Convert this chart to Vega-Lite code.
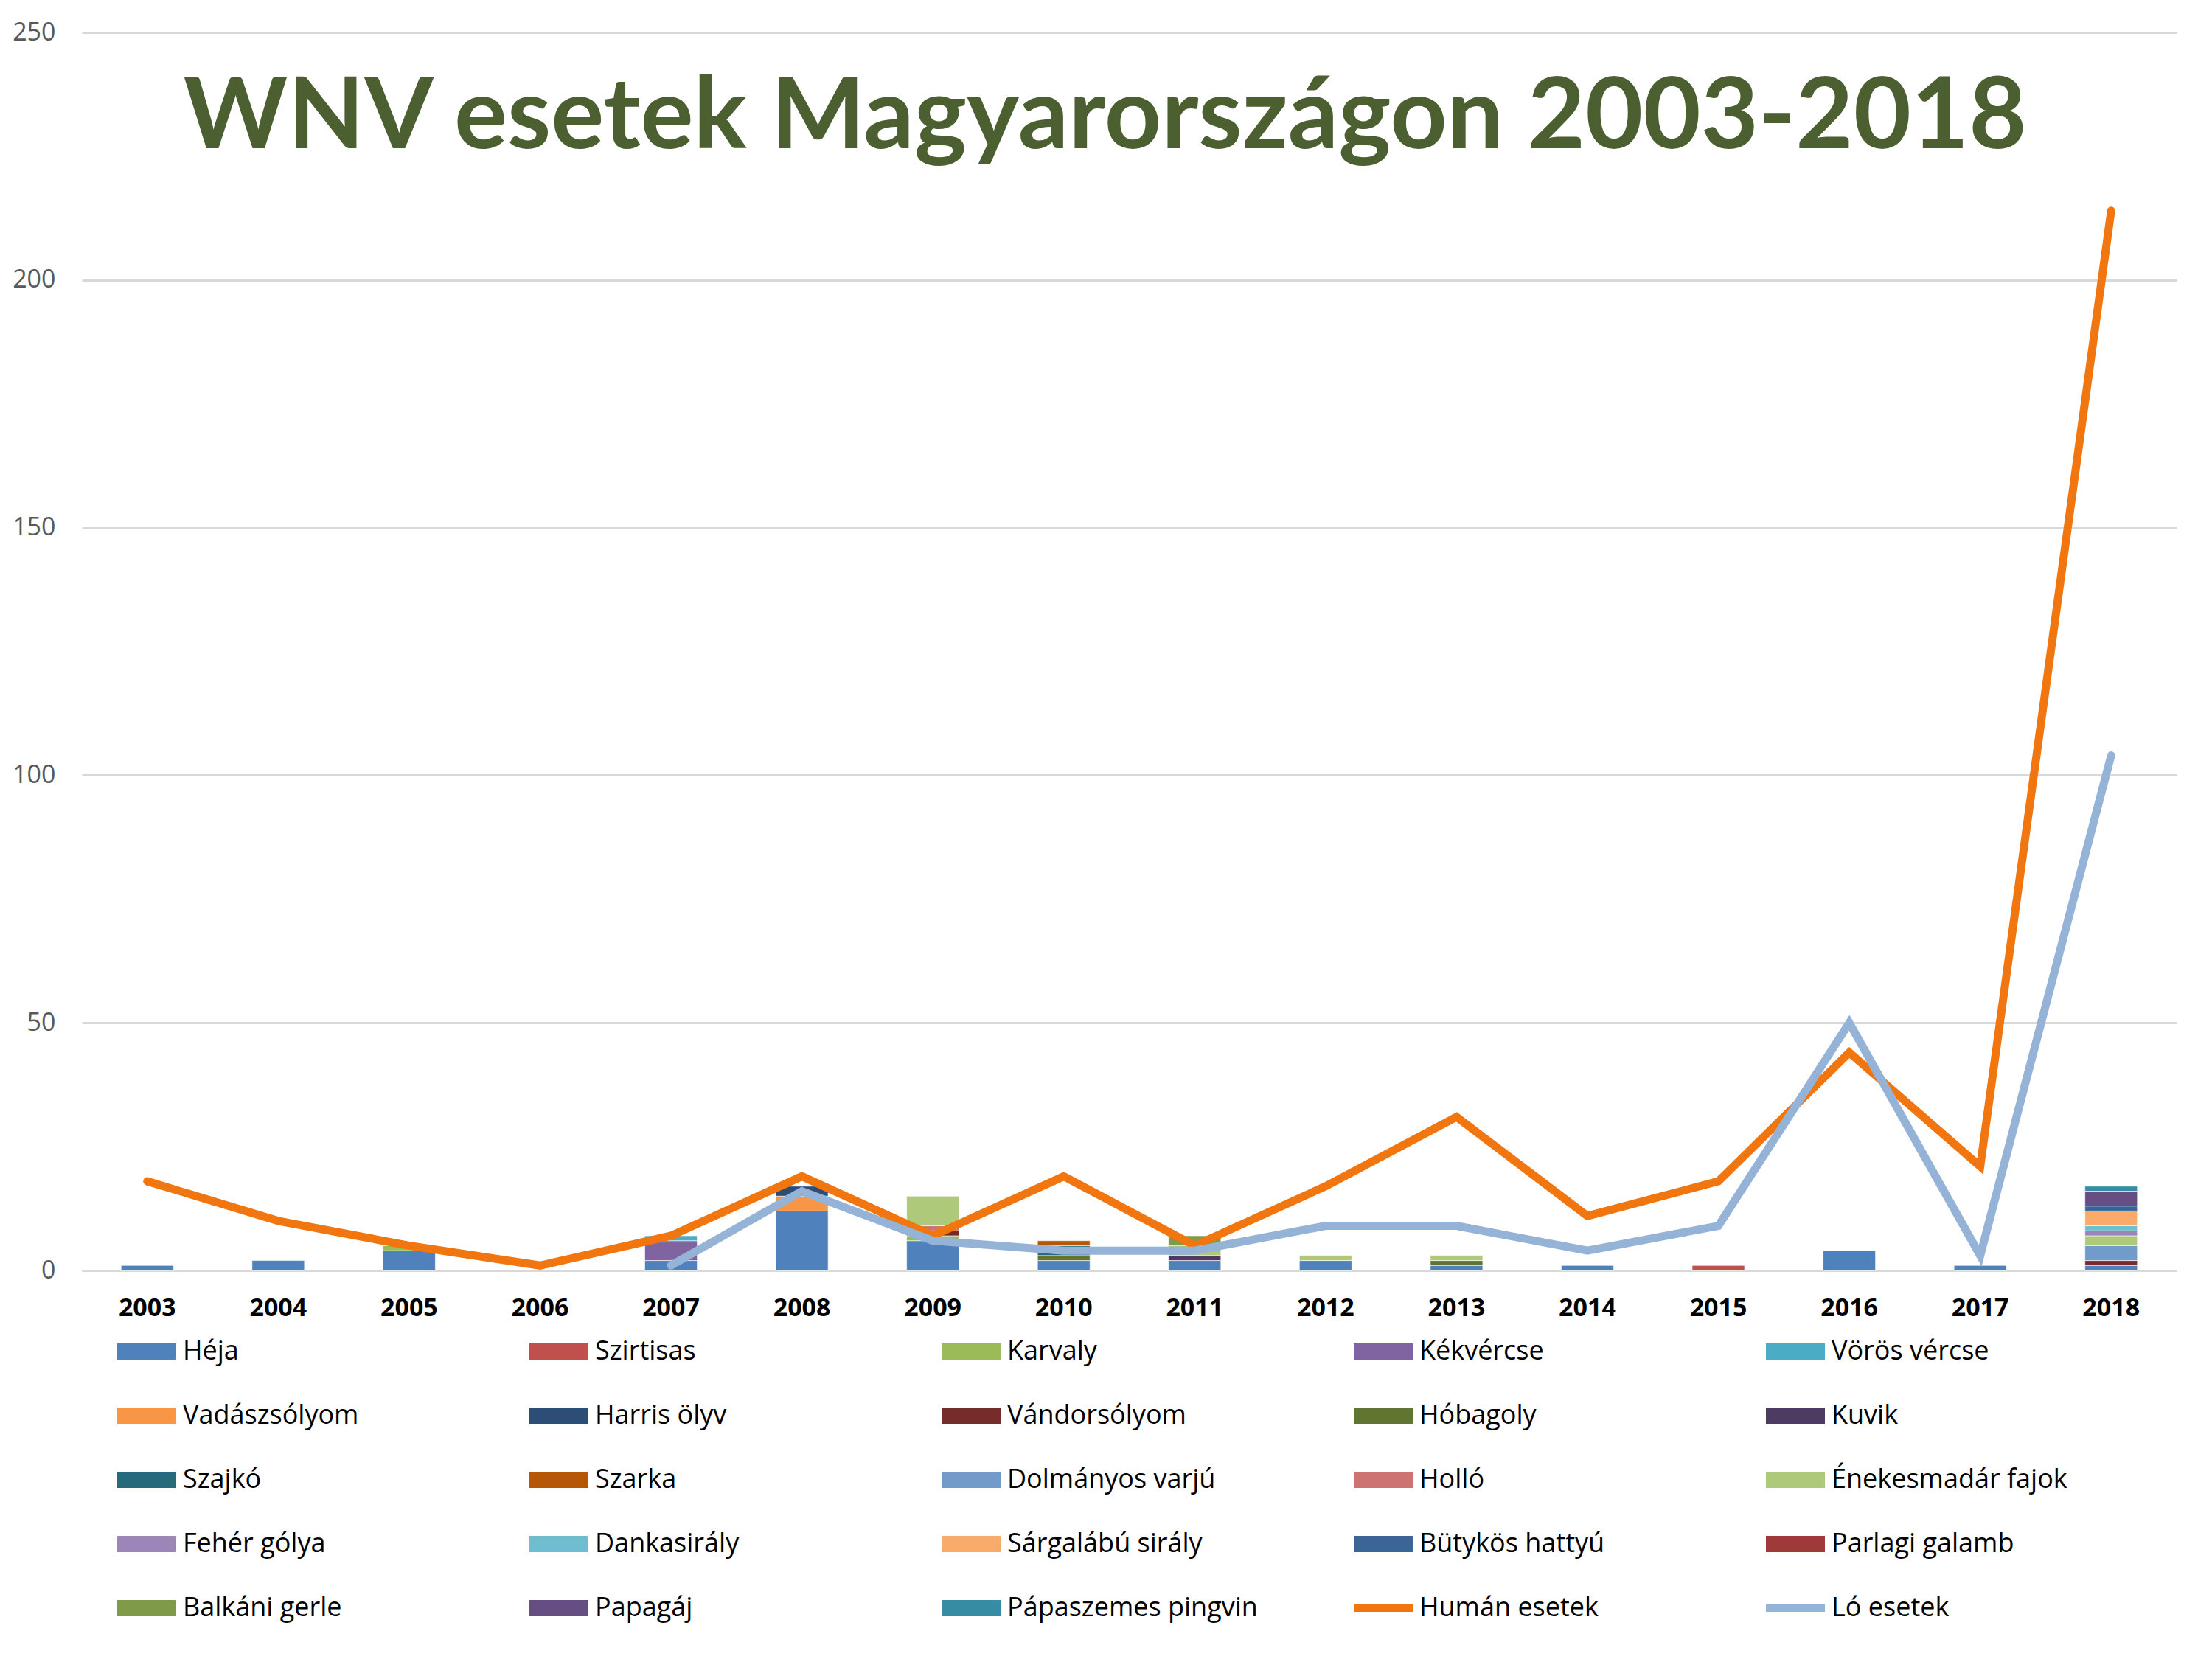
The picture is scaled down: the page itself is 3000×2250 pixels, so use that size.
{
  "$schema": "https://vega.github.io/schema/vega-lite/v6.json",
  "width": 2841,
  "height": 1679,
  "autosize": {"type": "none"},
  "padding": {"left": 111, "top": 44, "right": 48, "bottom": 527},
  "background": "white",
  "config": {
    "view": {"stroke": null},
    "font": "Open Sans"
  },
  "title": {
    "text": "WNV esetek Magyarországon 2003-2018",
    "font": "Lato",
    "fontSize": 135,
    "fontWeight": "bold",
    "color": "#4B5F30",
    "anchor": "middle",
    "baseline": "alphabetic",
    "offset": -309,
    "dx": -33
  },
  "datasets": {
    "birds": [
      {"year": "2003", "s": "Héja", "v": 1},
      {"year": "2004", "s": "Héja", "v": 2},
      {"year": "2005", "s": "Héja", "v": 4},
      {"year": "2005", "s": "Karvaly", "v": 1},
      {"year": "2007", "s": "Héja", "v": 2},
      {"year": "2007", "s": "Kékvércse", "v": 4},
      {"year": "2007", "s": "Vörös vércse", "v": 1},
      {"year": "2008", "s": "Héja", "v": 12},
      {"year": "2008", "s": "Vadászsólyom", "v": 3},
      {"year": "2008", "s": "Harris ölyv", "v": 2},
      {"year": "2009", "s": "Héja", "v": 6},
      {"year": "2009", "s": "Karvaly", "v": 1},
      {"year": "2009", "s": "Vándorsólyom", "v": 1},
      {"year": "2009", "s": "Holló", "v": 1},
      {"year": "2009", "s": "Énekesmadár fajok", "v": 6},
      {"year": "2010", "s": "Héja", "v": 2},
      {"year": "2010", "s": "Hóbagoly", "v": 1},
      {"year": "2010", "s": "Szajkó", "v": 2},
      {"year": "2010", "s": "Szarka", "v": 1},
      {"year": "2011", "s": "Héja", "v": 2},
      {"year": "2011", "s": "Kuvik", "v": 1},
      {"year": "2011", "s": "Énekesmadár fajok", "v": 2},
      {"year": "2011", "s": "Balkáni gerle", "v": 2},
      {"year": "2012", "s": "Héja", "v": 2},
      {"year": "2012", "s": "Énekesmadár fajok", "v": 1},
      {"year": "2013", "s": "Héja", "v": 1},
      {"year": "2013", "s": "Hóbagoly", "v": 1},
      {"year": "2013", "s": "Énekesmadár fajok", "v": 1},
      {"year": "2014", "s": "Héja", "v": 1},
      {"year": "2015", "s": "Szirtisas", "v": 1},
      {"year": "2016", "s": "Héja", "v": 4},
      {"year": "2017", "s": "Héja", "v": 1},
      {"year": "2018", "s": "Héja", "v": 1},
      {"year": "2018", "s": "Vándorsólyom", "v": 1},
      {"year": "2018", "s": "Dolmányos varjú", "v": 3},
      {"year": "2018", "s": "Énekesmadár fajok", "v": 2},
      {"year": "2018", "s": "Fehér gólya", "v": 1},
      {"year": "2018", "s": "Dankasirály", "v": 1},
      {"year": "2018", "s": "Sárgalábú sirály", "v": 3},
      {"year": "2018", "s": "Bütykös hattyú", "v": 1},
      {"year": "2018", "s": "Papagáj", "v": 3},
      {"year": "2018", "s": "Pápaszemes pingvin", "v": 1}
    ],
    "lines": [
      {"year": "2003", "s": "Humán esetek", "v": 18},
      {"year": "2004", "s": "Humán esetek", "v": 10},
      {"year": "2005", "s": "Humán esetek", "v": 5},
      {"year": "2006", "s": "Humán esetek", "v": 1},
      {"year": "2007", "s": "Humán esetek", "v": 7},
      {"year": "2008", "s": "Humán esetek", "v": 19},
      {"year": "2009", "s": "Humán esetek", "v": 7},
      {"year": "2010", "s": "Humán esetek", "v": 19},
      {"year": "2011", "s": "Humán esetek", "v": 5},
      {"year": "2012", "s": "Humán esetek", "v": 17},
      {"year": "2013", "s": "Humán esetek", "v": 31},
      {"year": "2014", "s": "Humán esetek", "v": 11},
      {"year": "2015", "s": "Humán esetek", "v": 18},
      {"year": "2016", "s": "Humán esetek", "v": 44},
      {"year": "2017", "s": "Humán esetek", "v": 21},
      {"year": "2018", "s": "Humán esetek", "v": 214},
      {"year": "2007", "s": "Ló esetek", "v": 1},
      {"year": "2008", "s": "Ló esetek", "v": 16},
      {"year": "2009", "s": "Ló esetek", "v": 6},
      {"year": "2010", "s": "Ló esetek", "v": 4},
      {"year": "2011", "s": "Ló esetek", "v": 4},
      {"year": "2012", "s": "Ló esetek", "v": 9},
      {"year": "2013", "s": "Ló esetek", "v": 9},
      {"year": "2014", "s": "Ló esetek", "v": 4},
      {"year": "2015", "s": "Ló esetek", "v": 9},
      {"year": "2016", "s": "Ló esetek", "v": 50},
      {"year": "2017", "s": "Ló esetek", "v": 3},
      {"year": "2018", "s": "Ló esetek", "v": 104}
    ]
  },
  "encoding": {
    "x": {
      "field": "year",
      "type": "nominal",
      "scale": {
        "domain": ["2003","2004","2005","2006","2007","2008","2009","2010","2011","2012","2013","2014","2015","2016","2017","2018"],
        "paddingInner": 0.6,
        "paddingOuter": 0.3
      },
      "axis": {
        "title": null,
        "labelAngle": 0,
        "labelFont": "Open Sans",
        "labelFontSize": 34,
        "labelFontWeight": "bold",
        "labelColor": "#000000",
        "labelPadding": 34,
        "ticks": false,
        "domainColor": "#D9D9D9",
        "domainWidth": 3,
        "grid": false
      }
    },
    "y": {
      "field": "v",
      "type": "quantitative",
      "stack": "zero",
      "scale": {"domain": [0, 250], "nice": false},
      "axis": {
        "title": null,
        "values": [0, 50, 100, 150, 200, 250],
        "labelFont": "Open Sans",
        "labelFontSize": 34,
        "labelColor": "#595959",
        "labelPadding": 36,
        "ticks": false,
        "domain": false,
        "gridColor": "#D9D9D9",
        "gridWidth": 3
      }
    },
    "color": {
      "field": "s",
      "type": "nominal",
      "scale": {
        "domain": ["Héja","Szirtisas","Karvaly","Kékvércse","Vörös vércse","Vadászsólyom","Harris ölyv","Vándorsólyom","Hóbagoly","Kuvik","Szajkó","Szarka","Dolmányos varjú","Holló","Énekesmadár fajok","Fehér gólya","Dankasirály","Sárgalábú sirály","Bütykös hattyú","Parlagi galamb","Balkáni gerle","Papagáj","Pápaszemes pingvin","Humán esetek","Ló esetek"],
        "range": ["#4F81BD","#C0504D","#9BBB59","#8064A2","#4BACC6","#F79646","#2C4D75","#772C2A","#5F7530","#4D3B62","#276A7C","#B65708","#729ACA","#CD7371","#AFC97A","#9C85B8","#6FBDD1","#F9AB6B","#3A6595","#9E3B38","#7F9A48","#664E82","#358CA3","#F2760F","#95B3D7"]
      },
      "legend": {
        "title": null,
        "orient": "none",
        "legendX": 48,
        "legendY": 1749,
        "direction": "horizontal",
        "columns": 5,
        "gridAlign": "all",
        "columnPadding": 130,
        "rowPadding": 29,
        "padding": 0,
        "labelFont": "Open Sans",
        "labelFontSize": 36,
        "labelColor": "#000000",
        "labelLimit": 600,
        "labelOffset": 9,
        "symbolSize": 6400,
        "symbolType": "M-1,-0.275H1V0.275H-1Z",
        "symbolStrokeWidth": 0,
        "encode": {
          "symbols": {
            "update": {
              "shape": {"signal": "indexof(['Humán esetek','Ló esetek'], datum.value) >= 0 ? 'M-1,-0.125H1V0.125H-1Z' : 'M-1,-0.275H1V0.275H-1Z'"},
              "fill": {"scale": "color", "field": "value"},
              "opacity": {"value": 1},
              "strokeWidth": {"value": 0}
            }
          }
        }
      }
    }
  },
  "layer": [
    {
      "data": {"name": "birds"},
      "transform": [
        {"calculate": "indexof(['Héja','Szirtisas','Karvaly','Kékvércse','Vörös vércse','Vadászsólyom','Harris ölyv','Vándorsólyom','Hóbagoly','Kuvik','Szajkó','Szarka','Dolmányos varjú','Holló','Énekesmadár fajok','Fehér gólya','Dankasirály','Sárgalábú sirály','Bütykös hattyú','Parlagi galamb','Balkáni gerle','Papagáj','Pápaszemes pingvin'], datum.s)", "as": "k"}
      ],
      "mark": {"type": "bar", "stroke": "white", "strokeWidth": 1, "strokeOpacity": 0.6},
      "encoding": {
        "order": {"field": "k", "type": "quantitative", "sort": "ascending"}
      }
    },
    {
      "data": {"name": "lines"},
      "mark": {"type": "line", "strokeWidth": 11, "strokeCap": "round", "strokeJoin": "miter"},
      "encoding": {
        "y": {"field": "v", "type": "quantitative", "stack": null},
        "detail": {"field": "s"}
      }
    }
  ]
}
